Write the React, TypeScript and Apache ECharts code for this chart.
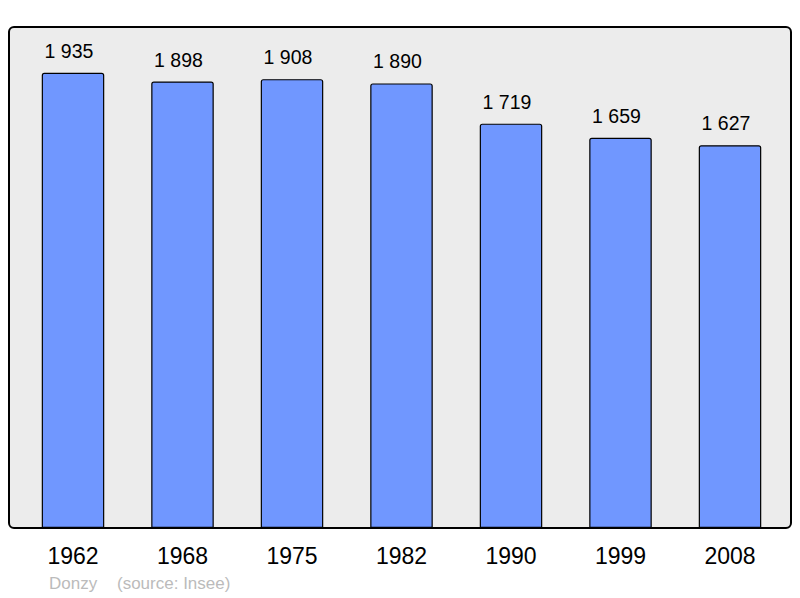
import React, { useEffect, useRef } from "react";
import * as echarts from "echarts";

const years = ["1962", "1968", "1975", "1982", "1990", "1999", "2008"];
const population = [1935, 1898, 1908, 1890, 1719, 1659, 1627];
const commune = "Donzy";
const source = "(source: Insee)";

const fmt = (v: number) => {
  const s = String(v);
  return s.length > 3 ? s.slice(0, s.length - 3) + " " + s.slice(-3) : s;
};

export default function App() {
  const ref = useRef<HTMLDivElement>(null);
  useEffect(() => {
    if (!ref.current) return;
    const chart = echarts.init(ref.current, null, { renderer: "svg" });
    chart.setOption({
      animation: false,
      textStyle: { fontFamily: "Liberation Sans, Arial, sans-serif" },
      graphic: [
        {
          type: "rect",
          z: -10,
          shape: { x: 9, y: 27, width: 782, height: 501, r: 5 },
          style: { fill: "#ececec", stroke: "#000", lineWidth: 2 },
        },
        {
          type: "text",
          x: 49,
          y: 575,
          style: { text: commune, fill: "#bbbbbb", font: "17px Liberation Sans, Arial, sans-serif" },
        },
        {
          type: "text",
          x: 117,
          y: 575,
          style: { text: source, fill: "#bbbbbb", font: "17px Liberation Sans, Arial, sans-serif" },
        },
      ],
      grid: { left: 18.25, right: 15.25, top: 34, bottom: 70, containLabel: false },
      xAxis: {
        type: "category",
        data: years,
        axisLine: { show: false },
        axisTick: { show: false },
        axisLabel: { color: "#000", fontSize: 23, margin: 16 },
      },
      yAxis: {
        type: "value",
        min: 0,
        max: 2100,
        show: false,
        splitLine: { show: false },
      },
      series: [
        {
          type: "bar",
          data: population,
          barWidth: 62.5,
          itemStyle: { color: "#7097ff", borderColor: "#000", borderWidth: 1.2, borderRadius: [2, 2, 0, 0] },
          label: {
            show: true,
            position: "top",
            distance: 12,
            offset: [-4, 0],
            color: "#000",
            fontSize: 19.5,
            formatter: (p: any) => fmt(p.value),
          },
        },
      ],
    });
    return () => chart.dispose();
  }, []);
  return <div ref={ref} style={{ width: 800, height: 598, position: "absolute", left: 0, top: 0 }} />;
}
